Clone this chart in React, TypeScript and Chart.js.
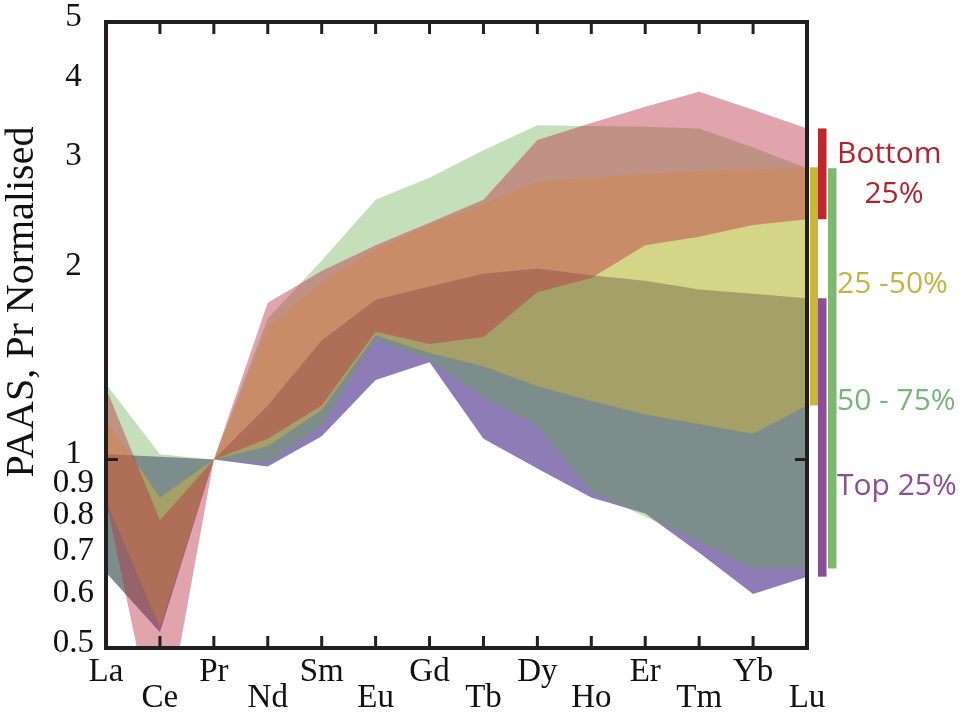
import { useEffect, useRef } from "react"
import { Chart, registerables } from "chart.js"

Chart.register(...registerables)

// Rare earth elements along the x axis
const elements = ["La", "Ce", "Pr", "Nd", "Sm", "Eu", "Gd", "Tb", "Dy", "Ho", "Er", "Tm", "Yb", "Lu"]
const yTickValues = [0.5, 0.6, 0.7, 0.8, 0.9, 1, 2, 3, 4, 5]

// Envelope of each quartile group (PAAS, Pr normalised)
const bottomUpper = [1.3, 0.8, 1.0, 1.78, 2.0, 2.2, 2.39, 2.6, 3.24, 3.45, 3.66, 3.87, 3.62, 3.38]
const bottomLower = [0.86, 0.335, 1.0, 1.08, 1.22, 1.6, 1.53, 1.57, 1.85, 1.95, 2.2, 2.27, 2.37, 2.42]

const midLowUpper = [1.16, 0.87, 1.0, 1.63, 1.92, 2.17, 2.37, 2.56, 2.78, 2.82, 2.86, 2.89, 2.91, 2.93]
const midLowLower = [0.86, 0.54, 1.0, 1.05, 1.2, 1.58, 1.48, 1.41, 1.31, 1.24, 1.18, 1.14, 1.1, 1.22]

const midHighUpper = [1.32, 1.02, 1.0, 1.68, 2.08, 2.6, 2.82, 3.12, 3.42, 3.41, 3.4, 3.38, 3.15, 2.92]
const midHighLower = [0.66, 0.54, 1.0, 0.99, 1.13, 1.56, 1.44, 1.26, 1.13, 0.89, 0.81, 0.74, 0.67, 0.67]

const topUpper = [1.02, 1.01, 1.0, 1.22, 1.55, 1.8, 1.89, 1.98, 2.02, 1.97, 1.93, 1.87, 1.84, 1.81]
const topLower = [0.66, 0.53, 1.0, 0.975, 1.09, 1.34, 1.43, 1.08, 0.968, 0.87, 0.82, 0.71, 0.61, 0.65]

const groups = [
  { name: "Bottom 25%", upper: bottomUpper, lower: bottomLower, fill: "rgba(185, 45, 65, 0.43)", bar: "#c0272d", text: "#b5222f" },
  { name: "25 -50%", upper: midLowUpper, lower: midLowLower, fill: "rgba(242, 194, 39, 0.35)", bar: "#c8b73b", text: "#c2b640" },
  { name: "50 - 75%", upper: midHighUpper, lower: midHighLower, fill: "rgba(98, 170, 68, 0.375)", bar: "#7cb86e", text: "#78b47c" },
  { name: "Top 25%", upper: topUpper, lower: topLower, fill: "rgba(60, 30, 130, 0.58)", bar: "#8c4f96", text: "#8a4f96" },
]

const serif = "'Liberation Serif', 'Times New Roman', serif"
const sans = "'Open Sans', 'Noto Sans', sans-serif"

// frame, inward ticks, axis title and the side legend
const decorations = {
  id: "decorations",
  afterDraw(chart: Chart) {
    const { ctx, chartArea: a } = chart
    const xs = chart.scales.x
    const ys = chart.scales.y
    ctx.save()
    ctx.strokeStyle = "#231f20"
    ctx.lineWidth = 3
    ctx.beginPath()
    for (let i = 1; i < elements.length - 1; i++) {
      const px = xs.getPixelForValue(i)
      ctx.moveTo(px, a.bottom)
      ctx.lineTo(px, a.bottom - 12)
      ctx.moveTo(px, a.top)
      ctx.lineTo(px, a.top + 12)
    }
    const one = ys.getPixelForValue(1)
    ctx.moveTo(a.left, one)
    ctx.lineTo(a.left + 12, one)
    ctx.moveTo(a.right, one)
    ctx.lineTo(a.right - 12, one)
    ctx.stroke()
    ctx.lineWidth = 4
    ctx.strokeRect(a.left, a.top, a.right - a.left, a.bottom - a.top)

    // y axis title
    ctx.fillStyle = "#111"
    ctx.font = `40px ${serif}`
    ctx.textAlign = "center"
    ctx.textBaseline = "alphabetic"
    ctx.translate(33, 302)
    ctx.rotate(-Math.PI / 2)
    ctx.fillText("PAAS, Pr Normalised", 0, 0)
    ctx.setTransform(chart.currentDevicePixelRatio, 0, 0, chart.currentDevicePixelRatio, 0, 0)

    // legend bars show the Lu range of each group
    const last = elements.length - 1
    const barX = [818, 810, 828, 818]
    groups.forEach((g, i) => {
      const top = ys.getPixelForValue(g.upper[last])
      const bottom = ys.getPixelForValue(g.lower[last])
      ctx.fillStyle = g.bar
      ctx.fillRect(barX[i], top, i === 1 ? 8 : 8.5, bottom - top)
    })

    ctx.font = `30px ${sans}`
    ctx.textAlign = "left"
    ctx.fillStyle = groups[0].text
    ctx.fillText("Bottom", 837, 163)
    ctx.textAlign = "center"
    ctx.fillText("25%", 894, 203)
    ctx.textAlign = "left"
    ctx.fillStyle = groups[1].text
    ctx.fillText("25 -50%", 837, 293)
    ctx.fillStyle = groups[2].text
    ctx.fillText("50 - 75%", 837, 410)
    ctx.fillStyle = groups[3].text
    ctx.fillText("Top 25%", 837, 495)
    ctx.restore()
  },
}

export default function App() {
  const canvasRef = useRef<HTMLCanvasElement>(null)

  useEffect(() => {
    if (!canvasRef.current) return
    const ctx = canvasRef.current.getContext("2d")
    if (!ctx) return

    // datasets earlier in the list are painted last, so red ends on top
    const datasets: any[] = []
    groups.forEach((g) => {
      datasets.push({
        label: g.name,
        data: g.upper,
        fill: "+1",
        backgroundColor: g.fill,
        borderWidth: 0,
        pointRadius: 0,
        tension: 0,
      })
      datasets.push({
        label: g.name + " lower",
        data: g.lower,
        fill: false,
        borderWidth: 0,
        pointRadius: 0,
        tension: 0,
      })
    })

    const chart = new Chart(ctx, {
      type: "line",
      data: {
        labels: elements.map((e, i) => (i % 2 === 0 ? e : ["", e])),
        datasets,
      },
      options: {
        responsive: true,
        maintainAspectRatio: false,
        animation: false,
        layout: { padding: { left: 0, right: 158, top: 22, bottom: 0 } },
        plugins: {
          legend: { display: false },
          tooltip: { enabled: false },
          filler: { propagate: false },
        },
        scales: {
          x: {
            type: "category",
            offset: false,
            grid: { display: false },
            border: { display: false },
            ticks: {
              color: "#111",
              padding: 3,
              maxRotation: 0,
              autoSkip: false,
              font: { family: serif, size: 33, lineHeight: 0.8 },
            },
            afterFit: (s: any) => {
              s.height = 69
            },
          },
          y: {
            type: "logarithmic",
            min: 0.5,
            max: 5,
            grid: { display: false },
            border: { display: false },
            afterBuildTicks: (s: any) => {
              s.ticks = yTickValues.map((v) => ({ value: v }))
            },
            afterFit: (s: any) => {
              s.width = 106
              s.paddingTop = 0
              s.paddingBottom = 0
            },
            ticks: {
              color: "#111",
              padding: 4,
              crossAlign: "center",
              labelOffset: -5,
              autoSkip: false,
              font: { family: serif, size: 33 },
              callback: (v: any) => String(v),
            },
          },
        },
      },
      plugins: [decorations],
    })

    return () => {
      chart.destroy()
    }
  }, [])

  return (
    <div style={{ position: "absolute", left: 0, top: 0, width: 965, height: 717, background: "#fff" }}>
      <canvas ref={canvasRef}></canvas>
    </div>
  )
}
